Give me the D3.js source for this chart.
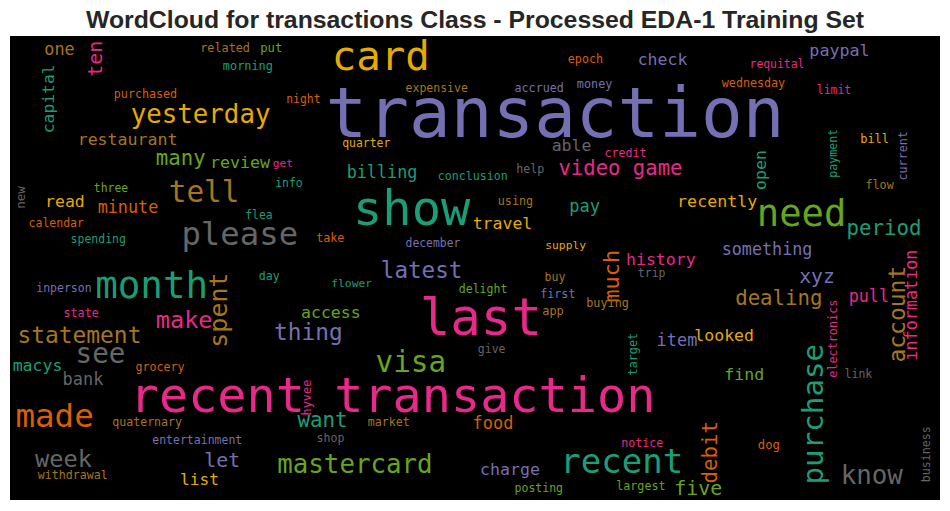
<!DOCTYPE html>
<html>
<head>
<meta charset="utf-8">
<script src="https://cdn.jsdelivr.net/npm/d3@7"></script>
<style>
  html, body { margin: 0; padding: 0; background: #ffffff; }
  svg { display: block; }
</style>
</head>
<body>
<div id="chart"></div>
<script>
// ---- Data: word cloud layout (wordcloud canvas units, 930 x 464) ----
const titleText = "WordCloud for transactions Class - Processed EDA-1 Training Set";

const words = [
  "one","ten","capital","related","put","morning","purchased","night","yesterday","restaurant",
  "many","review","get","info","three","tell","read","minute","new","flea",
  "calendar","spending","please","take","card","epoch","expensive","accrued","money","transaction",
  "quarter","able","credit","billing","conclusion","help","video game","show","using","pay",
  "travel","december","supply","much","history","latest","check","paypal","requital","wednesday",
  "limit","bill","payment","current","open","flow","recently","need","period","something",
  "information","account","month","inperson","day","spent","state","make","statement","see",
  "macys","grocery","bank","recent transaction","hyvee","made","quaternary","want","entertainment","shop",
  "week","let","mastercard","withdrawal","list","flower","access","thing","delight","buy",
  "first","buying","app","last","give","visa","target","market","food","notice",
  "recent","charge","posting","largest","trip","xyz","dealing","pull","electronics","item",
  "looked","find","link","purchase","debit","dog","know","business","five"
];

// font size of each word in the layout
const sizes = [
  16.8,19.9,16.4,11.8,12.2,11.9,11.7,11.4,25.8,16.6,
  20.7,16.6,11.2,11.4,11.4,29.3,16.5,16.8,12.5,11.4,
  11.5,11.5,32.3,11.7,40.8,11.7,11.5,11.7,11.8,69.3,
  11.4,16.5,11.6,16.8,11.6,11.7,20.6,48.7,11.7,17.0,
  16.5,11.4,11.3,21.9,16.5,22.6,16.5,16.7,11.4,11.7,
  11.4,11.9,11.6,11.7,16.6,11.7,16.7,37.2,20.8,16.75,
  16.8,23.0,37.5,11.5,11.6,25.0,11.7,23.6,22.9,27.6,
  16.5,11.6,16.9,48.5,11.9,32.6,11.6,20.8,11.5,11.6,
  23.6,19.9,25.8,11.6,16.2,11.3,16.5,22.8,11.5,11.6,
  11.7,11.8,11.9,50.8,11.5,29.3,11.8,11.6,16.9,11.6,
  34.0,16.6,11.5,11.7,11.5,19.7,20.7,16.8,11.8,16.9,
  16.5,16.5,11.5,29.2,20.8,12.2,25.8,11.6,20.0
];

// text origin (start of baseline) in layout units
const posX = [
  35,91.5,43.5,190.7,250.7,213.3,104.3,276.7,121.7,68.3,
  146.7,200.7,263.3,265.7,84.3,160,35.7,88.3,15,235.7,
  19,61,172.7,306.7,323.3,558.3,396,505,567.3,318.3,
  332.7,542.3,595,337.3,428.3,506.7,549.3,345,488.3,560,
  463.3,396,535.7,609.3,616.7,371.7,628.3,800,740,712.3,
  807.3,850.7,826.5,896.5,756,856,667.7,748.3,837.3,712.3,
  906.5,895,86.7,26.7,249.3,216.7,54,146.7,8.3,66.7,
  3.3,126,53.3,121.7,301,6.7,102.7,288.3,142.7,307,
  26,195,268.3,28.3,170.7,321.7,291.7,265,449.3,535,
  530.7,576.7,532.7,411.7,468.3,366.7,627,358.3,463.3,611.7,
  551.7,470.7,505,606.7,628.3,790,726,839.3,826.5,647.3,
  685,715,835,813,706.5,748.3,831.7,920,665
];

const posY = [
  19.3,40,96.7,15.7,15.5,34,62.3,67.3,86.7,109,
  129,132.3,131.3,150.7,155.7,165.7,170.7,177.3,172.3,183.3,
  190.7,207.3,209,205.7,34,27.3,55.7,55.7,52.3,100.7,
  110.7,114.7,120.7,142.3,144,136.7,139,189,169,175.7,
  193,211.3,213.3,265.7,229,242.3,29,20,32.3,50.7,
  58,106.7,141.3,144,153.3,153.3,170.7,190,199,219,
  324,325.7,262.3,255.7,244,310.7,280.7,292.3,306.7,327.3,
  334.7,334.7,349,375.7,379,390.7,390,390.7,408.3,405.7,
  430.7,430.7,436.7,443.3,449,250.7,282.3,304,257.3,244.7,
  262.3,270.7,279,299,317.3,335.7,339,390,393.3,410.7,
  436.7,439,455.7,454,240.7,247.3,269,265.7,341.3,310,
  304.7,344,342.3,447.3,446.7,413.3,448,445.7,459
];

// 1 = rotated 90 degrees (reads bottom to top)
const vertical = [
  0,1,1,0,0,0,0,0,0,0,
  0,0,0,0,0,0,0,0,1,0,
  0,0,0,0,0,0,0,0,0,0,
  0,0,0,0,0,0,0,0,0,0,
  0,0,0,1,0,0,0,0,0,0,
  0,0,1,1,1,0,0,0,0,0,
  1,1,0,0,0,1,0,0,0,0,
  0,0,0,0,1,0,0,0,0,0,
  0,0,0,0,0,0,0,0,0,0,
  0,0,0,0,0,0,1,0,0,0,
  0,0,0,0,0,0,0,0,1,0,
  0,0,0,1,1,0,0,1,0
];

// index into the Dark2 palette
const colorIdx = [
  6,3,0,6,4,0,1,1,5,6,
  4,4,3,0,4,6,5,1,7,0,
  1,0,7,1,5,1,6,2,2,2,
  5,7,3,0,0,7,3,0,6,0,
  5,2,5,1,3,2,2,2,3,1,
  3,5,0,2,0,6,5,4,0,2,
  3,6,0,2,0,6,3,3,6,7,
  0,1,7,3,3,1,6,0,2,7,
  7,2,4,6,5,0,4,2,4,6,
  2,6,6,3,7,4,0,6,1,3,
  0,2,4,4,7,2,6,3,3,2,
  5,4,7,0,1,1,7,7,4
];

const palette = d3.schemeDark2;

// ---- Drawing ----
const W = 950, H = 511;
const svg = d3.select("#chart").append("svg")
  .attr("width", W).attr("height", H);

const x = d3.scaleLinear().domain([0, 930]).range([10, 940]);
const y = d3.scaleLinear().domain([0, 464]).range([36, 500]);
const k = (x(930) - x(0)) / 930;
const color = d3.scaleOrdinal().domain(d3.range(8)).range(palette);

svg.append("rect")
  .attr("x", x(0)).attr("y", y(0))
  .attr("width", x(930) - x(0)).attr("height", y(464) - y(0))
  .attr("fill", "#000000");

svg.append("text")
  .attr("x", (x(0) + x(930)) / 2)
  .attr("y", 28)
  .attr("text-anchor", "middle")
  .attr("font-family", "'Liberation Sans', Arial, Helvetica, sans-serif")
  .attr("font-weight", "bold")
  .attr("font-size", 24.8)
  .attr("fill", "#262626")
  .text(titleText);

const data = words.map((w, i) => ({
  text: w, size: sizes[i], px: posX[i], py: posY[i], rot: vertical[i], c: colorIdx[i]
}));

const g = svg.append("g");
g.selectAll("text.word")
  .data(data)
  .join("text")
  .attr("class", "word")
  .attr("font-family", "'DejaVu Sans Mono', monospace")
  .attr("font-size", d => d.size * k)
  .attr("fill", d => color(d.c))
  .attr("transform", d => {
    const b = 0.04 * d.size * k; // side bearing
    return d.rot
      ? `translate(${x(d.px)},${y(d.py) + b}) rotate(-90)`
      : `translate(${x(d.px) - b},${y(d.py)})`;
  })
  .style("white-space", "pre")
  .text(d => d.text);
</script>
</body>
</html>
